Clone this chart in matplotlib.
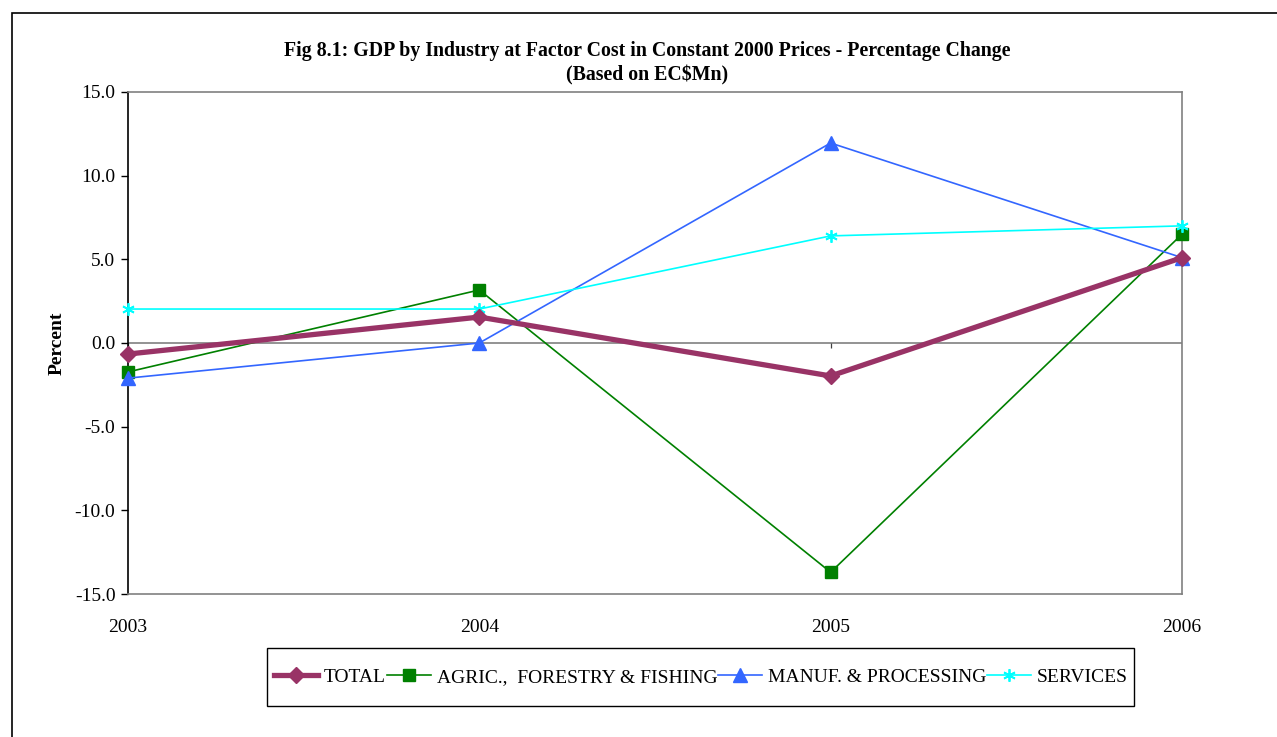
import numpy as np
import matplotlib.pyplot as plt
from matplotlib.patches import Rectangle

plt.rcParams['font.family'] = ['Liberation Serif', 'DejaVu Serif']

years = ['2003', '2004', '2005', '2006']
total = [-0.66, 1.55, -1.97, 5.1]
agric = [-1.73, 3.17, -13.7, 6.5]
manuf = [-2.1, 0.0, 11.95, 5.1]
services = [2.03, 2.03, 6.4, 7.0]

x = np.arange(len(years))

fig = plt.figure(figsize=(12.77, 7.37), dpi=100)
ax = fig.add_axes([0.1002, 0.194, 0.8254, 0.6812])

# outer chart frame
fig.patches.append(Rectangle((12 / 1277, -0.05), 1.2, 1 - 13 / 737 + 0.05,
                             transform=fig.transFigure, fill=False,
                             edgecolor='black', linewidth=1.2))

ax.axhline(0, color='#808080', linewidth=1.2, zorder=1)
ax.vlines(x, -0.3, 0, color='#404040', linewidth=0.9, zorder=1)

ax.plot(x, total, color='#993366', linewidth=3.8, marker='D', markersize=8,
        label='TOTAL', clip_on=False, zorder=5)
ax.plot(x, agric, color='#008000', linewidth=1.2, marker='s', markersize=9,
        label='AGRIC.,  FORESTRY & FISHING', clip_on=False, zorder=4)
ax.plot(x, manuf, color='#3366FF', linewidth=1.2, marker='^', markersize=10,
        label='MANUF. & PROCESSING', clip_on=False, zorder=4)
ax.plot(x, services, color='#00FFFF', linewidth=1.2, marker=(6, 2, 0),
        markersize=9, markeredgewidth=1.3, label='SERVICES', clip_on=False,
        zorder=4)

ax.set_xlim(0, 3)
ax.set_ylim(-15, 15)
ax.set_yticks(np.arange(-15, 15.1, 5))
ax.set_yticklabels([f'{v:.1f}' for v in np.arange(-15, 15.1, 5)])
ax.set_xticks(x)
ax.set_xticklabels(years)
ax.tick_params(axis='x', length=0, pad=18, labelsize=14)
ax.tick_params(axis='y', direction='out', length=5, width=1, labelsize=14,
               pad=4)

for side in ['top', 'right', 'bottom']:
    ax.spines[side].set_color('#808080')
    ax.spines[side].set_linewidth(1.2)
ax.spines['left'].set_color('black')
ax.spines['left'].set_linewidth(1.2)

ax.set_ylabel('Percent', fontsize=14, fontweight='bold')
ax.yaxis.set_label_coords(-62 / 1054, 0.5)

fig.text(647 / 1277, 1 - 51 / 737, 'Fig 8.1: GDP by Industry at Factor Cost in Constant 2000 Prices - Percentage Change',
         ha='center', va='center', fontsize=14.3, fontweight='bold')
fig.text(647 / 1277, 1 - 75 / 737, '(Based on EC$Mn)', ha='center',
         va='center', fontsize=14.3, fontweight='bold')

leg = fig.legend(loc='center', bbox_to_anchor=(701 / 1277, 1 - 677 / 737),
                 ncol=4, fontsize=14.0, frameon=False,
                 handlelength=2.25, handletextpad=0.3,
                 columnspacing=0.05, borderpad=0.2, borderaxespad=0)

# legend box
fig.patches.append(Rectangle((267 / 1277, 1 - 706 / 737), 867 / 1277,
                             58 / 737, transform=fig.transFigure, fill=False,
                             edgecolor='black', linewidth=1.0))

fig.savefig('out.png', dpi=100)
